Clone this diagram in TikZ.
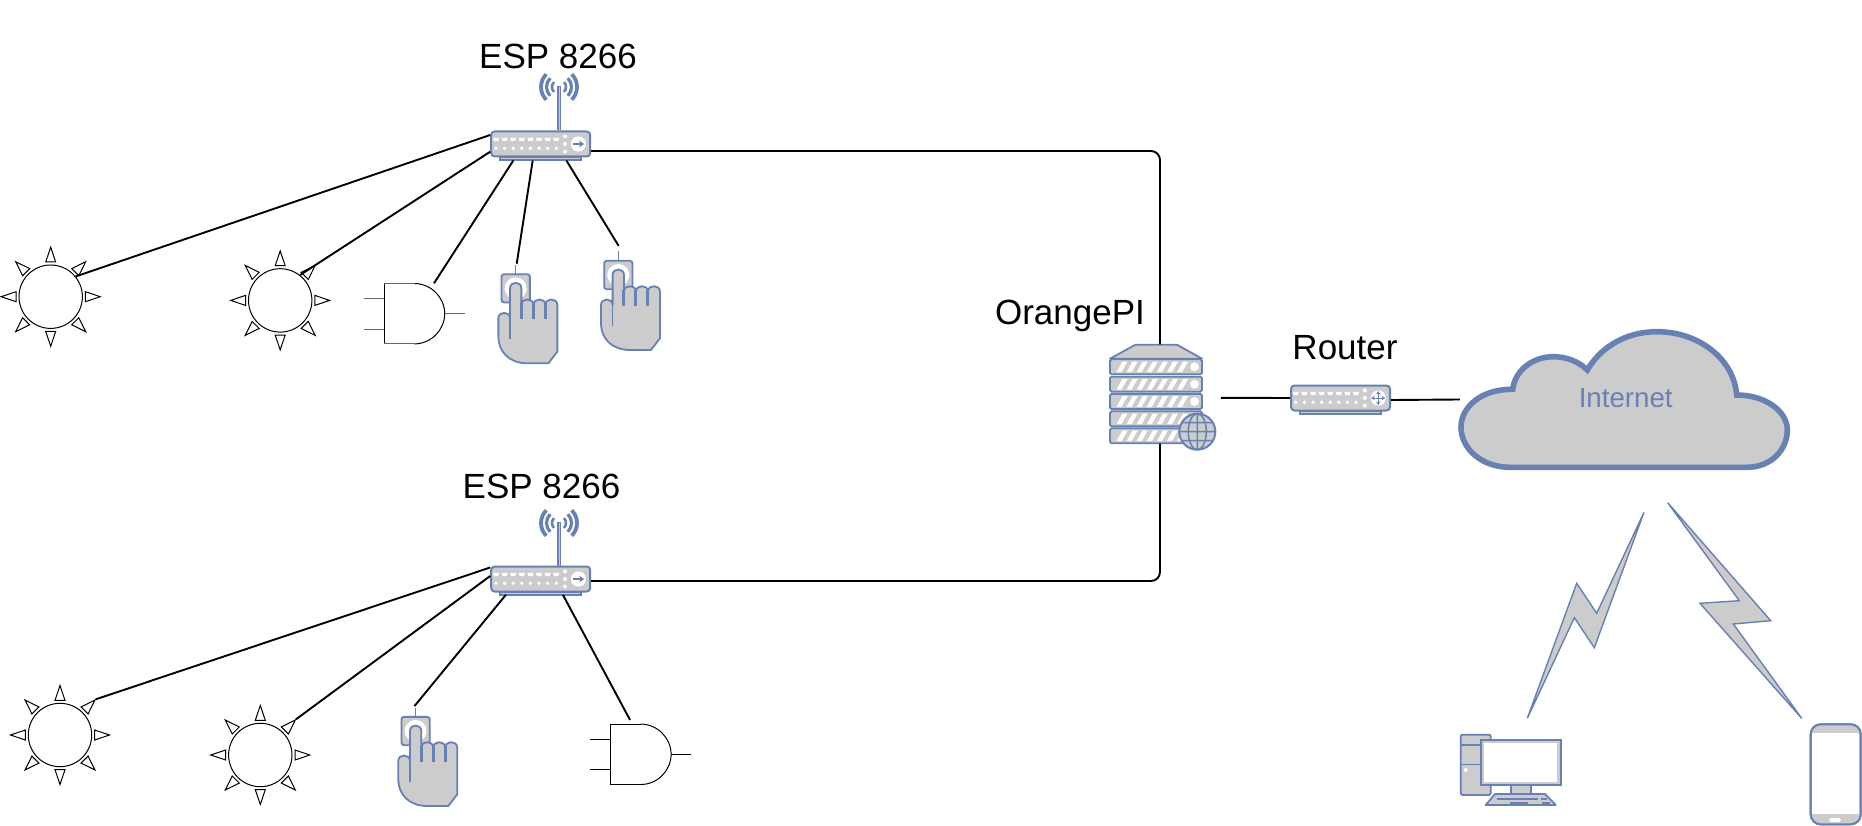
\documentclass[tikz,border=0pt]{standalone}
\usepackage{fontspec}
\setmainfont{Liberation Sans}
\usetikzlibrary{calc,arrows.meta}
\definecolor{bl}{HTML}{6881B3}
\definecolor{gr}{HTML}{CCCCCC}
\newcommand{\RouterBody}{%
  \fill[gr,draw=bl,line width=1.8pt] (-40.5,13) rectangle (40.5,16);
  \node[draw=bl,fill=gr,line width=2pt,rounded corners=3.5pt,inner sep=0pt,minimum width=99pt,minimum height=25pt] (-r) at (0,0) {};
  \foreach \i in {0,...,7}{
    \fill[white] ({-47.7+8.6*\i},-6.2) -- ({-41.7+8.6*\i},-6.2) -- ({-42.5+8.6*\i},-3) -- ({-46.9+8.6*\i},-3) -- cycle;
    \fill[white] ({-44.7+8.6*\i},4.3) circle[radius=1.9pt];
  }
  \foreach \y in {-7.5,0,7.5} \fill[white] (24.3,\y) circle[radius=2pt];
  \fill[white] (37.7,0) circle[radius=7.6pt];
}
\tikzset{
  x=1pt,y=-1pt,
  wire/.style={draw=black,line width=1.9pt},
  thinblk/.style={draw=black,line width=1pt},
  stubline/.style={draw=black!60,line width=1pt},
  blfill/.style={draw=bl,fill=gr,line width=1.8pt},
  bolt/.style={draw=bl,fill=gr,line width=1.4pt,miter limit=20},
  lbl/.style={font=\fontsize{35}{40}\selectfont,inner sep=0pt,text=black},
  sun/.pic={
    \node[circle,draw=black,fill=white,line width=1pt,inner sep=0pt,minimum size=63.4pt] (-c) at (0,0) {};
    \foreach \a in {0,45,...,315}
      \draw[thinblk,fill=white,rotate=\a] (34.7,-5) -- (49.5,0) -- (34.7,5) -- cycle;
  },
  gate/.pic={
    \node[inner sep=0pt,minimum width=60pt,minimum height=60.4pt] (-g) at (0,0) {};
    \draw[thinblk] (0,-30.2) .. controls (17,-30.2) and (30.4,-16) .. (30.4,0) .. controls (30.4,16) and (17,30.2) .. (0,30.2);
    \draw[thinblk] (-30,-30.2) -- (-30,30.2);
    \draw[stubline] (-30,-30.2) -- (0,-30.2) (-30,30.2) -- (0,30.2) (-50.3,-15) -- (-30,-15) (-50.3,15.3) -- (-30,15.3) (30.4,0) -- (50.7,0);
  },
  hand/.pic={
    \draw[draw=bl,line width=1.5pt] (0,-14.5) -- (0,-23.5);
    \node[draw=bl,fill=gr,line width=1.8pt,rounded corners=2.5pt,inner sep=0pt,minimum size=28.3pt] (-b) at (0,0) {};
    \fill[white] (0,0) circle[radius=11pt];
    \begin{scope}[x=.3333pt,y=-.3333pt]
      \draw[blfill,line join=round] (-52,90) .. controls (-52,68) and (-17,68) .. (-17,90)
        -- (-17,0) .. controls (-17,-22) and (17,-22) .. (17,0) -- (17,50)
        .. controls (17,28) and (53,28) .. (53,50)
        .. controls (53,28) and (89,28) .. (89,50)
        .. controls (89,28) and (125,28) .. (125,50)
        -- (125,190) -- (98,225) -- (35,225)
        .. controls (-20,225) and (-52,190) .. (-52,145) -- cycle;
      \draw[draw=bl,line width=1.3pt] (-17,90) -- (-17,153);
      \draw[draw=bl,line width=3pt] (17,45) -- (17,93) (53,45) -- (53,93) (89,45) -- (89,93);
    \end{scope}
  },
  espbox/.pic={
    \RouterBody
    \draw[draw=bl,line width=1.5pt,-{Stealth[length=5pt,width=6.5pt]}] (32,0) -- (43.5,0);
  },
  rtbox/.pic={
    \RouterBody
    \draw[draw=bl,line width=1pt,{Stealth[length=3.5pt,width=4.5pt]}-{Stealth[length=3.5pt,width=4.5pt]}] (30.7,0) -- (44.7,0);
    \draw[draw=bl,line width=1pt,{Stealth[length=3.5pt,width=4.5pt]}-{Stealth[length=3.5pt,width=4.5pt]}] (37.7,-7) -- (37.7,7);
  },
  antenna/.pic={
    \draw[draw=bl,line width=4.2pt] (0,0) -- (0,44);
    \draw[draw=gr,line width=1pt] (0,1) -- (0,44);
    \foreach \r/\w in {7/2.6,12.5/3.2,18/3.8}{
      \draw[draw=bl,line width=\w pt] ($(0,1)+(135:\r pt)$) arc[start angle=135,end angle=225,radius=\r pt];
      \draw[draw=bl,line width=\w pt] ($(0,1)+(-45:\r pt)$) arc[start angle=-45,end angle=45,radius=\r pt];
    }
  },
  server/.pic={
    \node[inner sep=0pt,minimum width=92pt,minimum height=99pt] (-s) at (0,0) {};
    \draw[blfill,line join=round] (-20.5,-49.3) -- (21,-49.3) -- (46,-35.3) -- (-46,-35.3) -- cycle;
    \foreach \t in {-34.7,-17.3,0,17.3,34.3}{
      \draw[blfill,rounded corners=1.5pt] (-46,\t) rectangle (46,\t+15);
      \foreach \i in {0,...,6}
        \fill[white] ({-39.5+10.1*\i},\t+12.8) -- ({-34.5+10.1*\i},\t+12.8) -- ({-28.5+10.1*\i},\t+2.2) -- ({-33.5+10.1*\i},\t+2.2) -- cycle;
      \fill[white] (38.5,\t+7.5) circle[radius=4.4pt];
    }
    \draw[blfill,line width=2pt] (41.3,37.7) circle[radius=18pt];
    \begin{scope}[shift={(41.3,37.7)}]
      \draw[draw=bl,line width=1.5pt] (0,0) ellipse[x radius=9pt,y radius=18pt] (0,-18) -- (0,18) (-18,0) -- (18,0) (-15.5,-9) -- (15.5,-9) (-15.5,9) -- (15.5,9);
    \end{scope}
  },
}
\begin{document}
\begin{tikzpicture}
\useasboundingbox (0,0) rectangle (1862,826);
\fill[white] (0,0) rectangle (1862,826);

\pic (s1) at (50.7,296.7) {sun};
\pic (s2) at (280.2,300.4) {sun};
\pic (s3) at (60,735) {sun};
\pic (s4) at (260.3,755) {sun};
\pic (g1) at (414.3,313.7) {gate};
\pic[stubline/.style={draw=black,line width=1pt}] (g2) at (640.7,754.3) {gate};
\pic (h1) at (515.7,288.3) {hand};
\pic (h2) at (618.3,275) {hand};
\pic (h3) at (415.6,731) {hand};
\pic at (559,86) {antenna};
\pic at (559,522) {antenna};
\pic (esp1) at (540.7,144) {espbox};
\pic (esp2) at (540.7,579) {espbox};
\pic (rt) at (1340.5,398) {rtbox};
\pic (srv) at (1156,394) {server};

\node[lbl] (t1) at (558,56) {ESP 8266};
\node[lbl] (t2) at (541.5,486) {ESP 8266};
\node[lbl] (t3) at (1070,316) {OrangePI};
\node[lbl] (t4) at (1345,348) {Router};

% cloud
\draw[draw=bl,fill=gr,line width=5.6pt,miter limit=4]
  (1510,467.3) -- (1746.7,467.3) .. controls (1772,467.3) and (1787.3,449) .. (1787.3,430)
  .. controls (1787.3,411) and (1765,395) .. (1736.7,395)
  .. controls (1734,360) and (1700,331.7) .. (1656.7,331.7)
  .. controls (1625,331.7) and (1600,348) .. (1587.3,370)
  .. controls (1578,361) and (1566,356.7) .. (1553.3,356.7)
  .. controls (1533,356.7) and (1515,370) .. (1512.7,389.3)
  .. controls (1480,389) and (1461,408) .. (1461,427)
  .. controls (1461,449) and (1482,467.3) .. (1510,467.3) -- cycle;
\node[inner sep=0pt,minimum width=327pt,minimum height=135pt] (cloud) at (1623.6,399.5) {};
\node[inner sep=0pt,font=\fontsize{27.7}{32}\selectfont,text=bl] (inet) at (1625.7,398.3) {Internet};

% lightning
\draw[bolt] (1644,512.3) -- (1596.7,613.3) -- (1576.7,583.3) -- (1527.3,718.3) -- (1574.3,617.7) -- (1594.3,647.7) -- cycle;
\draw[bolt] (1667.7,502.7) -- (1739.3,600.7) -- (1700,603.3) -- (1801.7,718.3) -- (1733.3,624) -- (1770.7,620.7) -- cycle;

% computer
\draw[blfill,rounded corners=2pt] (1460.7,734.7) rectangle (1490.7,795);
\draw[draw=bl,line width=1.8pt] (1460.7,745) -- (1481,745) (1460.7,764.5) -- (1481,764.5);
\fill[white] (1465.7,770) circle[radius=2pt];
\draw[blfill] (1510.7,785) rectangle (1530.7,793.5);
\draw[blfill] (1480.7,740) rectangle (1560.7,785);
\fill[white] (1484,742.7) rectangle (1556.7,781.7);
\draw[blfill,line join=round] (1495,794) -- (1545,794) -- (1555.7,805) -- (1485.7,805) -- cycle;
\draw[draw=bl,line width=1.3pt] (1497,799) -- (1538,799) (1541,799) -- (1547,799) (1510,803) -- (1528,803) (1542,803) -- (1550,803);

% phone
\draw[draw=bl,fill=white,line width=2pt,rounded corners=10pt] (1810.7,724.3) rectangle (1860.7,824.3);
\begin{scope}
\clip[rounded corners=10pt] (1810.7,724.3) rectangle (1860.7,824.3);
\fill[gr] (1810.7,724.3) rectangle (1860.7,733);
\fill[gr] (1810.7,814.3) rectangle (1860.7,824.3);
\end{scope}
\draw[draw=bl,line width=2pt,rounded corners=10pt] (1810.7,724.3) rectangle (1860.7,824.3);
\fill[white,rounded corners=1.7pt] (1829,818.2) rectangle (1841,821.8);

% connectors
\draw[wire,rounded corners=9pt] ($(esp1-r.east)+(0,7)$) -| ($(srv-s.north)+(4,0)$);
\draw[wire,rounded corners=9pt] ($(esp2-r.east)+(0,2)$) -| ($(srv-s.south)+(4,0)$);
\draw[wire] ($(srv-s.east)+(18.7,3.8)$) -- (rt-r.west);
\draw[wire] ($(rt-r.east)+(0,2)$) -- (cloud.west);
\draw[wire] ($(esp1-r.west)+(0,-9)$) -- (s1-c.39);
\draw[wire] ($(esp1-r.west)+(0,7.7)$) -- (s2-c.52);
\draw[wire] ($(esp1-r.south)+(-27.4,3)$) -- ($(g1-g.north)+(19.7,0)$);
\draw[wire] ($(esp1-r.south)+(-8,3)$) -- ($(h1-b.north)+(1,-9.5)$);
\draw[wire] ($(esp1-r.south)+(25.7,3)$) -- ($(h2-b.north)+(0.4,-14)$);
\draw[wire] ($(esp2-r.west)+(0,-11.5)$) -- ($(s3-c)+(35.7,-35.7)$);
\draw[wire] ($(esp2-r.west)+(0,-3)$) -- ($(s4-c)+(35.7,-35.7)$);
\draw[wire] ($(esp2-r.south)+(-34.8,2.3)$) -- ($(h3-b.north)+(-1.2,-9.8)$);
\draw[wire] ($(esp2-r.south)+(22.2,2.3)$) -- ($(g2-g.north)+(-10.7,-4)$);
\end{tikzpicture}
\end{document}
